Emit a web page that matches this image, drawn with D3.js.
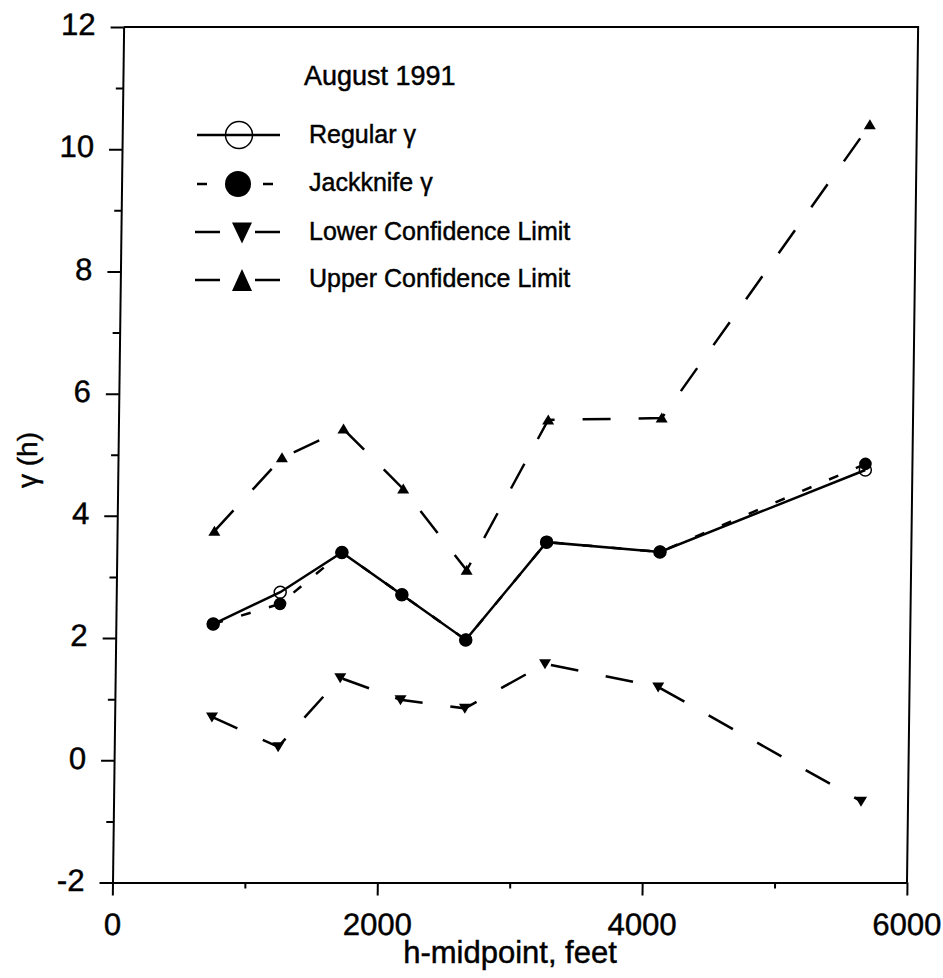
<!DOCTYPE html>
<html>
<head>
<meta charset="utf-8">
<script src="https://cdn.jsdelivr.net/npm/d3@7/dist/d3.min.js"></script>
<style>
  html, body { margin: 0; padding: 0; background: #fff; }
  svg { display: block; font-family: "Liberation Sans", Arial, sans-serif; }
  svg text { stroke: #000; stroke-width: 0.45px; fill: #000; }
</style>
</head>
<body>
<svg id="chart" width="943" height="978"></svg>
<script>
// ---- data ----
const hMidpoints   = [735, 1238, 1700, 2157, 2644, 3245, 4102, 5645];
const regularGamma = [2.23, 2.75, 3.40, 2.71, 1.97, 3.57, 3.41, 4.75];
const jackGamma    = [2.23, 2.56, 3.40, 2.71, 1.97, 3.57, 3.41, 4.85];
const lowerLimit   = [0.71, 0.22, 1.35, 0.99, 0.85, 1.58, 1.20, -0.67];
const upperLimit   = [3.75, 4.95, 5.42, 4.44, 3.11, 5.57, 5.60, 10.40];
const xMajorTicks  = [0, 2000, 4000, 6000];
const xMinorTicks  = [1000, 3000, 5000];
const yMajorTicks  = [-2, 0, 2, 4, 6, 8, 10, 12];
const yMinorTicks  = [-1, 1, 3, 5, 7, 9, 11];
const legendItems  = ["Regular \u03b3", "Jackknife \u03b3", "Lower Confidence Limit", "Upper Confidence Limit"];
const legendTitle  = "August 1991";
const xTitle = "h-midpoint, feet";
const yTitle = "\u03b3 (h)";

(function () {
// ---- layout ----
const svg = d3.select("#chart");
const pLeft = 112.5, pRight = 907, pTop = 27, pBottom = 882.5;
const shearK = 0.013; // scan skew
const x = d3.scaleLinear().domain([0, 6000]).range([pLeft, pRight]);
const y = d3.scaleLinear().domain([-2, 12]).range([pBottom, pTop]);
const fmt = d => String(d);

const plot = svg.append("g")
  .attr("transform", `translate(${shearK * pBottom},0) skewX(${-Math.atan(shearK) * 180 / Math.PI})`);

const FONT_TICK = 31;

// frame (top and right)
plot.append("path")
  .attr("d", d3.line()([[pLeft, pTop], [pRight, pTop], [pRight, pBottom]]))
  .attr("fill", "none").attr("stroke", "#000").attr("stroke-width", 2);

// x axis
const xAxis = plot.append("g").attr("transform", `translate(0,${pBottom})`)
  .call(d3.axisBottom(x).tickValues(xMajorTicks).tickSize(13).tickSizeOuter(0).tickPadding(18).tickFormat(fmt));
plot.append("g").attr("transform", `translate(0,${pBottom})`)
  .call(d3.axisBottom(x).tickValues(xMinorTicks).tickSize(6).tickSizeOuter(0).tickFormat(""))
  .select(".domain").remove();

// y axis
const yAxis = plot.append("g").attr("transform", `translate(${pLeft},0)`)
  .call(d3.axisLeft(y).tickValues(yMajorTicks).tickSize(13).tickSizeOuter(0).tickPadding(15).tickFormat(fmt));
plot.append("g").attr("transform", `translate(${pLeft},0)`)
  .call(d3.axisLeft(y).tickValues(yMinorTicks).tickSize(7).tickSizeOuter(0).tickFormat(""))
  .select(".domain").remove();

plot.selectAll(".domain, .tick line").attr("stroke", "#000").attr("stroke-width", 2);
plot.selectAll(".tick text").attr("font-size", FONT_TICK).attr("fill", "#000")
  .attr("font-family", "'Liberation Sans', Arial, sans-serif");
yAxis.selectAll(".tick text").attr("dy", "0.25em");
xAxis.selectAll(".tick text").attr("dy", "0.71em");

// ---- series ----
const pts = vals => vals.map((v, i) => [x(hMidpoints[i]), y(v)]);
const line = d3.line();

function drawLine(vals, dash) {
  plot.append("path").attr("d", line(pts(vals)))
    .attr("fill", "none").attr("stroke", "#000").attr("stroke-width", 2.5)
    .attr("stroke-dasharray", dash || null);
}
drawLine(upperLimit, "28,28");
drawLine(lowerLimit, "28,28");
drawLine(jackGamma, "10,19");
drawLine(regularGamma, null);

function triPath(cx, cy, w, h, up) {
  const s = up ? 1 : -1;
  return `M${cx},${cy - s * h * 0.55}L${cx + w / 2},${cy + s * h * 0.45}L${cx - w / 2},${cy + s * h * 0.45}Z`;
}

plot.selectAll(".up").data(pts(upperLimit)).join("path")
  .attr("d", d => triPath(d[0], d[1], 12, 10, true)).attr("fill", "#000");
plot.selectAll(".down").data(pts(lowerLimit)).join("path")
  .attr("d", d => triPath(d[0], d[1], 12, 10, false)).attr("fill", "#000");
plot.selectAll(".reg").data(pts(regularGamma)).join("circle")
  .attr("cx", d => d[0]).attr("cy", d => d[1]).attr("r", 6)
  .attr("fill", "none").attr("stroke", "#000").attr("stroke-width", 1.5);
plot.selectAll(".jack").data(pts(jackGamma)).join("circle")
  .attr("cx", d => d[0]).attr("cy", d => d[1]).attr("r", 6.3).attr("fill", "#000");

// ---- axis titles ----
svg.append("text").attr("x", 510).attr("y", 963).attr("text-anchor", "middle")
  .attr("font-size", 31).text(xTitle);
svg.append("text").attr("transform", "translate(37,460) rotate(-90)")
  .attr("text-anchor", "middle").attr("font-size", 28).text(yTitle);

// ---- legend ----
const lg = svg.append("g");
lg.append("text").attr("x", 304).attr("y", 85).attr("font-size", 27).text(legendTitle);
const rowY = [135, 184, 232, 280];
const textX = 309;
const baseOff = [8, 7, 8, 7];
legendItems.forEach((t, i) => {
  lg.append("text").attr("x", textX).attr("y", rowY[i] + baseOff[i]).attr("font-size", 25).text(t);
});
// Regular
lg.append("line").attr("x1", 197).attr("x2", 280).attr("y1", rowY[0]).attr("y2", rowY[0])
  .attr("stroke", "#000").attr("stroke-width", 2.5);
lg.append("circle").attr("cx", 239).attr("cy", rowY[0]).attr("r", 13.5)
  .attr("fill", "none").attr("stroke", "#000").attr("stroke-width", 1.5);
// Jackknife
lg.append("line").attr("x1", 197).attr("x2", 273).attr("y1", rowY[1]).attr("y2", rowY[1])
  .attr("stroke", "#000").attr("stroke-width", 2.5).attr("stroke-dasharray", "10,56");
lg.append("circle").attr("cx", 238).attr("cy", rowY[1]).attr("r", 13).attr("fill", "#000");
// Lower
lg.append("line").attr("x1", 195).attr("x2", 280).attr("y1", rowY[2]).attr("y2", rowY[2])
  .attr("stroke", "#000").attr("stroke-width", 2.5).attr("stroke-dasharray", "25,35");
lg.append("path").attr("d", triPath(242, rowY[2], 20, 21, false)).attr("fill", "#000");
// Upper
lg.append("line").attr("x1", 195).attr("x2", 280).attr("y1", rowY[3]).attr("y2", rowY[3])
  .attr("stroke", "#000").attr("stroke-width", 2.5).attr("stroke-dasharray", "25,35");
lg.append("path").attr("d", triPath(242, rowY[3] + 1, 20, 22, true)).attr("fill", "#000");
})();
</script>
</body>
</html>
